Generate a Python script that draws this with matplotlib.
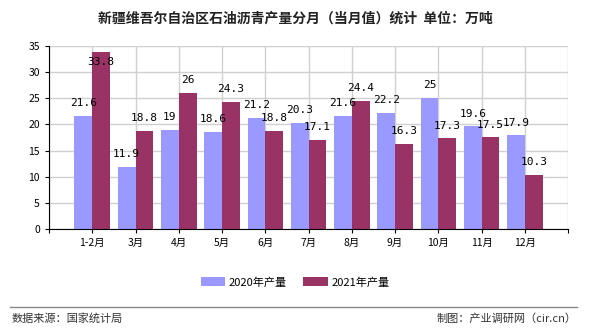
import numpy as np
import matplotlib
matplotlib.use('Agg')
from matplotlib import pyplot as plt
from matplotlib.lines import Line2D

plt.rcParams['font.family'] = ['Noto Sans CJK SC', 'DejaVu Sans']

months = ['1-2月', '3月', '4月', '5月', '6月', '7月', '8月', '9月', '10月', '11月', '12月']
prod_2020 = [21.6, 11.9, 19, 18.6, 21.2, 20.3, 21.6, 22.2, 25, 19.6, 17.9]
prod_2021 = [33.8, 18.8, 26, 24.3, 18.8, 17.1, 24.4, 16.3, 17.3, 17.5, 10.3]
yticks = [0, 5, 10, 15, 20, 25, 30, 35]

fig = plt.figure(figsize=(5.9, 3.3), dpi=100)
ax = fig.add_axes([0.083, 0.306, 0.88, 0.555])

x = np.arange(len(months))
w = 0.41
b1 = ax.bar(x - w/2, prod_2020, w, color='#9999FF', label='2020年产量', zorder=2)
b2 = ax.bar(x + w/2, prod_2021, w, color='#993366', label='2021年产量', zorder=2)

# 数值标签，超出顶部的压到框内
for xi, v in zip(x, prod_2020):
    ax.text(xi - w/2, min(v + 1.5, 31), f'{v:g}', ha='center', va='bottom',
            fontsize=8, family='DejaVu Sans Mono', zorder=3)
for xi, v in zip(x, prod_2021):
    ax.text(xi + w/2, min(v + 1.5, 31), f'{v:g}', ha='center', va='bottom',
            fontsize=8, family='DejaVu Sans Mono', zorder=3)

ax.set_xlim(-1, 11)
ax.set_ylim(0, 35)
ax.set_yticks(yticks)
ax.set_xticks(np.arange(-1, 12))
ax.set_xticklabels([''] + months + [''])
ax.tick_params(axis='both', labelsize=7.5, length=3, color='black')
ax.grid(True, color='#d0d0d0', linewidth=1, zorder=0)
ax.set_axisbelow(True)
for s in ['top', 'right']:
    ax.spines[s].set_visible(False)

fig.text(0.5, 0.945, '新疆维吾尔自治区石油沥青产量分月（当月值）统计  单位：万吨',
         ha='center', va='center', fontsize=10, fontweight='bold', color='#222222')

fig.legend(handles=[b1, b2], loc='center', bbox_to_anchor=(0.5, 0.145), ncol=2,
           frameon=False, fontsize=8, handlelength=2.2, handleheight=0.9,
           columnspacing=1.5, handletextpad=0.3)

fig.add_artist(Line2D([0.017, 0.978], [0.07, 0.07], color='#888888', linewidth=1))
fig.text(0.02, 0.035, '数据来源：国家统计局', ha='left', va='center', fontsize=8, color='#333333')
fig.text(0.978, 0.035, '制图：产业调研网（cir.cn）', ha='right', va='center', fontsize=8, color='#333333')

fig.savefig('out.png', dpi=100)
